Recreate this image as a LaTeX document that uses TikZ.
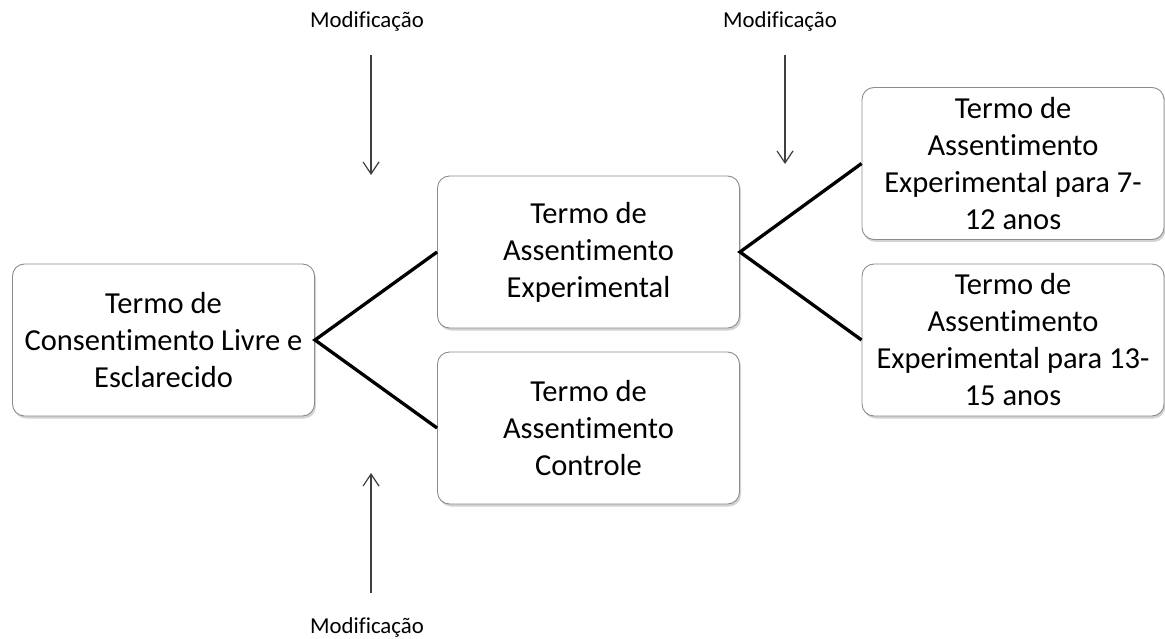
\documentclass[tikz,border=0pt]{standalone}
\usepackage{fontspec}
\setmainfont[Ligatures={NoCommon,NoRare,NoContextual},RawFeature=-liga,RawFeature=-clig,RawFeature=-calt,RawFeature=-dlig]{Carlito}
\usetikzlibrary{arrows.meta,shadows}

\begin{document}
\begin{tikzpicture}[x=1pt,y=-1pt,
  termbox/.style={rectangle, rounded corners=12pt, draw=black!45, line width=0.9pt,
    fill=white, minimum width=302pt, minimum height=152pt, inner sep=0pt,
    align=center, font=\fontsize{30.5}{37}\selectfont,
    drop shadow={opacity=0.35, shadow xshift=1.5pt, shadow yshift=-2.5pt}},
  link/.style={line width=3.3pt, black},
  modlabel/.style={font=\fontsize{22.8}{27}\selectfont, inner sep=0pt},
  modarrow/.style={line width=1.2pt, black!75, -{Straight Barb[length=12pt,width=16pt,line width=1.2pt]}}
]
\useasboundingbox (0,0) rectangle (1165,639);

% consent form and the assent forms derived from it
\node[termbox] (tcle) at (163.5,340) {Termo de\\Consentimento Livre e\\Esclarecido};
\node[termbox] (exp)  at (588.5,252) {Termo de\\Assentimento\\Experimental};
\node[termbox] (ctrl) at (588.5,428) {Termo de\\Assentimento\\Controle};
\node[termbox] (exp7) at (1013,163.5) {Termo de\\Assentimento\\Experimental para 7-\\12 anos};
\node[termbox] (exp13) at (1013,340) {Termo de\\Assentimento\\Experimental para 13-\\15 anos};

% branching links
\draw[link] (exp.west) -- (tcle.east) -- (ctrl.west);
\draw[link] (exp7.west) -- (exp.east) -- (exp13.west);

% modification markers
\node[modlabel] (m1) at (367,22) {Modificação};
\node[modlabel] (m2) at (780,22) {Modificação};
\node[modlabel] (m3) at (367,627) {Modificação};

\coordinate (m1s) at (371,55);
\coordinate (m1e) at (371,175);
\coordinate (m2s) at (785,55);
\coordinate (m2e) at (785,164);
\coordinate (m3s) at (371,593);
\coordinate (m3e) at (371,473);

\draw[modarrow] (m1s) -- (m1e);
\draw[modarrow] (m2s) -- (m2e);
\draw[modarrow] (m3s) -- (m3e);
\end{tikzpicture}
\end{document}
